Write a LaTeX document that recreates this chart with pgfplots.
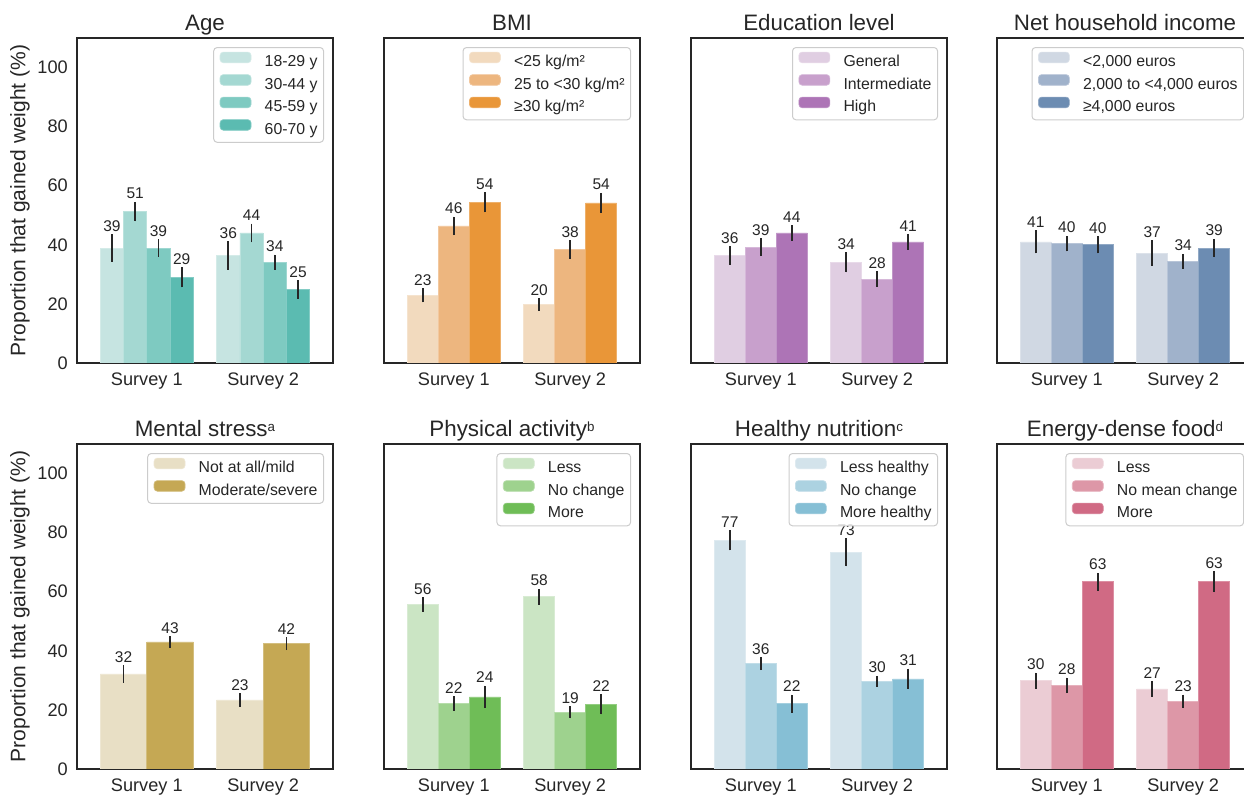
\documentclass[border=0pt]{standalone}
\usepackage{pgfplots}
\pgfplotsset{compat=1.18}
\usepackage{fontspec}
\setmainfont{Liberation Sans}
\newcommand\tickfont{\fontsize{10.9}{13}\selectfont}
\newcommand\titlefont{\fontsize{13.4}{16}\selectfont}
\newcommand\labfont{\fontsize{12.6}{15}\selectfont}
\newcommand\legfont{\fontsize{9.5}{11.4}\selectfont}
\newcommand\valfont{\fontsize{9.3}{11}\selectfont}
\newcommand\sups[1]{\raisebox{3pt}{\fontsize{8}{8}\selectfont #1}}
\definecolor{a1}{HTML}{C6E4E1}
\definecolor{a2}{HTML}{A4D8D2}
\definecolor{a3}{HTML}{7ECAC1}
\definecolor{a4}{HTML}{5BBBB1}
\definecolor{b1}{HTML}{F2DABE}
\definecolor{b2}{HTML}{EDB67F}
\definecolor{b3}{HTML}{E99638}
\definecolor{e1}{HTML}{E0CEE2}
\definecolor{e2}{HTML}{C8A0CC}
\definecolor{e3}{HTML}{AD74B6}
\definecolor{i1}{HTML}{D0D8E3}
\definecolor{i2}{HTML}{A0B2CB}
\definecolor{i3}{HTML}{6C8CB2}
\definecolor{m1}{HTML}{E8DFC5}
\definecolor{m2}{HTML}{C5A854}
\definecolor{p1}{HTML}{CBE5C4}
\definecolor{p2}{HTML}{9ED28E}
\definecolor{p3}{HTML}{6FBD57}
\definecolor{n1}{HTML}{D3E3EB}
\definecolor{n2}{HTML}{ACD2E1}
\definecolor{n3}{HTML}{86BFD5}
\definecolor{f1}{HTML}{EBCCD4}
\definecolor{f2}{HTML}{DD97A7}
\definecolor{f3}{HTML}{D06A84}
\pgfplotsset{
  panel/.style={scale only axis, width=153.6pt, height=195pt,
    xmin=-0.6, xmax=1.6, ymin=0, ymax=110,
    xtick={0,1}, xticklabels={Survey 1,Survey 2},
    ytick=\empty, major tick length=0pt,
    axis line style={black!85, line width=0.8pt},
    tick label style={font=\tickfont, text=black!85},
    xticklabel style={anchor=base, yshift=-13.8pt},
    yticklabel style={xshift=-2pt},
    /pgf/number format/assume math mode=true,
    every axis title/.style={at={(0.5,1)}, anchor=base, yshift=4.4pt, font=\titlefont, text=black!85, inner sep=0pt},
    legend style={at={(0.965,0.972)}, anchor=north east, draw=black!20, line width=0.6pt,
      rounded corners=2pt, fill=white, fill opacity=0.8, text opacity=1, draw opacity=1,
      font=\legfont, text=black!85,
      inner xsep=3.6pt, inner ysep=2.5pt, row sep=2.2pt, column sep=8pt,
      nodes={inner sep=0pt, text height=7.2pt, text depth=2.2pt}},
    legend cell align=left},
  leftpanel/.style={ytick={0,20,...,100},
    ylabel={Proportion that gained weight (\%)},
    every axis y label/.style={at={(axis description cs:-0.223,0.5)}, rotate=90, anchor=center, font=\labfont, text=black!85}},
  mybar/.style={ybar, bar shift=0pt, draw=#1!75!white, line width=0.4pt, fill=#1,
    /pgfplots/error bars/y dir=both, /pgfplots/error bars/y explicit,
    /pgfplots/error bars/error bar style={black!85, line width=1.1pt},
    /pgfplots/error bars/error mark=none,
    legend image code/.code={\path[##1, fill opacity=1] (0pt,0pt) rectangle (18.6pt,6.4pt);}},
  vals/.style={draw=none, mark=none, forget plot, nodes near coords, point meta=explicit symbolic,
    every node near coord/.append style={anchor=south, inner sep=1.5pt, font=\valfont, text=black!85}},
}
\begin{document}
\begin{tikzpicture}
% ---------------- Age
\begin{axis}[panel, leftpanel, at={(46.2pt,260.4pt)}, anchor=south west, title={Age}, bar width=0.2]
\addplot[mybar=a1] coordinates {(-0.3,38.9) +- (0,4.6) (0.7,36.4) +- (0,4.8)};
\addlegendentry{18-29 y}
\addplot[mybar=a2] coordinates {(-0.1,51.2) +- (0,3.3) (0.9,44.0) +- (0,3.2)};
\addlegendentry{30-44 y}
\addplot[mybar=a3] coordinates {(0.1,38.9) +- (0,2.9) (1.1,34.1) +- (0,2.6)};
\addlegendentry{45-59 y}
\addplot[mybar=a4] coordinates {(0.3,29.0) +- (0,3.4) (1.3,24.9) +- (0,3.1)};
\addlegendentry{60-70 y}
\addplot[vals] coordinates {(-0.3,43.5) [39] (0.7,41.2) [36] (-0.1,54.5) [51] (0.9,47.2) [44]
  (0.1,41.8) [39] (1.1,36.7) [34] (0.3,32.4) [29] (1.3,28.0) [25]};
\end{axis}
% ---------------- BMI
\begin{axis}[panel, at={(230.4pt,260.4pt)}, anchor=south west, title={BMI}, bar width=0.2667]
\addplot[mybar=b1] coordinates {(-0.2667,22.9) +- (0,2.4) (0.7333,19.8) +- (0,2.2)};
\addlegendentry{<25 kg/m²}
\addplot[mybar=b2] coordinates {(0,46.4) +- (0,3.1) (1,38.4) +- (0,3.1)};
\addlegendentry{25 to <30 kg/m²}
\addplot[mybar=b3] coordinates {(0.2667,54.4) +- (0,3.4) (1.2667,54.2) +- (0,3.4)};
\addlegendentry{≥30 kg/m²}
\addplot[vals] coordinates {(-0.2667,25.3) [23] (0.7333,22.0) [20] (0,49.5) [46] (1,41.5) [38]
  (0.2667,57.8) [54] (1.2667,57.6) [54]};
\end{axis}
% ---------------- Education
\begin{axis}[panel, at={(414.6pt,260.4pt)}, anchor=south west, title={Education level}, bar width=0.2667]
\addplot[mybar=e1] coordinates {(-0.2667,36.4) +- (0,3.2) (0.7333,34.1) +- (0,3.4)};
\addlegendentry{General}
\addplot[mybar=e2] coordinates {(0,39.2) +- (0,3.0) (1,28.4) +- (0,2.6)};
\addlegendentry{Intermediate}
\addplot[mybar=e3] coordinates {(0.2667,44.0) +- (0,2.7) (1.2667,41.0) +- (0,2.7)};
\addlegendentry{High}
\addplot[vals] coordinates {(-0.2667,39.6) [36] (0.7333,37.5) [34] (0,42.2) [39] (1,31.0) [28]
  (0.2667,46.7) [44] (1.2667,43.7) [41]};
\end{axis}
% ---------------- Income
\begin{axis}[panel, at={(598.2pt,260.4pt)}, anchor=south west, title={Net household income}, bar width=0.2667]
\addplot[mybar=i1] coordinates {(-0.2667,41.0) +- (0,3.9) (0.7333,37.2) +- (0,4.3)};
\addlegendentry{<2,000 euros}
\addplot[mybar=i2] coordinates {(0,40.4) +- (0,2.6) (1,34.4) +- (0,2.5)};
\addlegendentry{2,000 to <4,000 euros}
\addplot[mybar=i3] coordinates {(0.2667,40.0) +- (0,2.9) (1.2667,38.9) +- (0,3.1)};
\addlegendentry{≥4,000 euros}
\addplot[vals] coordinates {(-0.2667,44.9) [41] (0.7333,41.5) [37] (0,43.0) [40] (1,36.9) [34]
  (0.2667,42.9) [40] (1.2667,42.0) [39]};
\end{axis}
% ---------------- Mental stress
\begin{axis}[panel, leftpanel, at={(46.2pt,16.8pt)}, anchor=south west, title={Mental stress\sups{a}}, bar width=0.4]
\addplot[mybar=m1] coordinates {(-0.2,32.2) +- (0,3.0) (0.8,23.4) +- (0,2.3)};
\addlegendentry{Not at all/mild}
\addplot[mybar=m2] coordinates {(0.2,43.0) +- (0,2.0) (1.2,42.4) +- (0,2.2)};
\addlegendentry{Moderate/severe}
\addplot[vals] coordinates {(-0.2,35.2) [32] (0.8,25.7) [23] (0.2,45.0) [43] (1.2,44.6) [42]};
\end{axis}
% ---------------- Physical activity
\begin{axis}[panel, at={(230.4pt,16.8pt)}, anchor=south west, title={Physical activity\sups{b}}, bar width=0.2667]
\addplot[mybar=p1] coordinates {(-0.2667,55.7) +- (0,2.4) (0.7333,58.3) +- (0,2.7)};
\addlegendentry{Less}
\addplot[mybar=p2] coordinates {(0,22.2) +- (0,2.5) (1,19.2) +- (0,2.1)};
\addlegendentry{No change}
\addplot[mybar=p3] coordinates {(0.2667,24.4) +- (0,3.8) (1.2667,21.9) +- (0,3.4)};
\addlegendentry{More}
\addplot[vals] coordinates {(-0.2667,58.1) [56] (0.7333,61.0) [58] (0,24.7) [22] (1,21.3) [19]
  (0.2667,28.2) [24] (1.2667,25.3) [22]};
\end{axis}
% ---------------- Healthy nutrition
\begin{axis}[panel, at={(414.6pt,16.8pt)}, anchor=south west, title={Healthy nutrition\sups{c}}, bar width=0.2667]
\addplot[mybar=n1] coordinates {(-0.2667,77.4) +- (0,3.4) (0.7333,73.4) +- (0,4.8)};
\addlegendentry{Less healthy}
\addplot[mybar=n2] coordinates {(0,35.7) +- (0,2.2) (1,29.7) +- (0,1.8)};
\addlegendentry{No change}
\addplot[mybar=n3] coordinates {(0.2667,22.1) +- (0,3.1) (1.2667,30.5) +- (0,3.5)};
\addlegendentry{More healthy}
\addplot[vals] coordinates {(-0.2667,80.8) [77] (0.7333,78.0) [73] (0,37.9) [36] (1,31.5) [30]
  (0.2667,25.2) [22] (1.2667,34.0) [31]};
\end{axis}
% ---------------- Energy-dense food
\begin{axis}[panel, at={(598.2pt,16.8pt)}, anchor=south west, title={Energy-dense food\sups{d}}, bar width=0.2667]
\addplot[mybar=f1] coordinates {(-0.2667,29.9) +- (0,2.7) (0.7333,27.1) +- (0,2.7)};
\addlegendentry{Less}
\addplot[mybar=f2] coordinates {(0,28.3) +- (0,2.6) (1,22.9) +- (0,2.3)};
\addlegendentry{No mean change}
\addplot[mybar=f3] coordinates {(0.2667,63.4) +- (0,3.0) (1.2667,63.4) +- (0,3.5)};
\addlegendentry{More}
\addplot[vals] coordinates {(-0.2667,32.6) [30] (0.7333,29.8) [27] (0,30.9) [28] (1,25.2) [23]
  (0.2667,66.4) [63] (1.2667,66.9) [63]};
\end{axis}
\pgfresetboundingbox
\path[use as bounding box] (0pt,0pt) rectangle (746.4pt,478.2pt);
\end{tikzpicture}
\end{document}
